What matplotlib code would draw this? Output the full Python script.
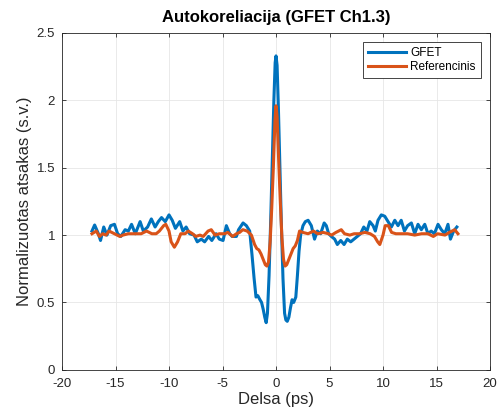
import matplotlib
matplotlib.use("Agg")
import matplotlib.pyplot as plt

# GFET autokoreliacija (delsa ps, normalizuota verte)
t_gfet = [-17.2, -16.95, -16.6, -16.4, -16.1, -15.8, -15.45, -15.1, -14.8, -14.5,
          -14.1, -13.8, -13.5, -13.15, -12.7, -12.4, -12.0, -11.65, -11.3, -11.0,
          -10.7, -10.35, -10.0, -9.7, -9.4, -9.0, -8.7, -8.4, -8.07, -7.66,
          -7.36, -6.98, -6.67, -6.3, -6.0, -5.6, -5.3, -4.95, -4.64, -4.33,
          -4.1, -3.7, -3.5, -3.08, -2.77, -2.46, -2.24, -2.05, -1.87, -1.7,
          -1.5, -1.35, -1.2, -1.05, -0.92, -0.8, -0.65, -0.5, -0.35, -0.2,
          -0.08, 0.0, 0.1, 0.22, 0.35, 0.5, 0.65, 0.8, 0.92, 1.05,
          1.2, 1.35, 1.5, 1.65, 1.85, 2.0, 2.15, 2.3, 2.52, 2.74,
          3.0, 3.3, 3.6, 3.86, 4.17, 4.5, 4.7, 4.92, 5.17, 5.48,
          5.73, 6.05, 6.36, 6.66, 6.98, 7.29, 7.6, 7.9, 8.2, 8.5,
          8.76, 9.07, 9.28, 9.53, 9.84, 10.16, 10.47, 10.78, 11.1, 11.4,
          11.7, 12.0, 12.3, 12.65, 12.96, 13.27, 13.58, 13.9, 14.2, 14.5,
          14.8, 15.14, 15.45, 15.77, 16.07, 16.3, 16.6, 16.9]
v_gfet = [1.03, 1.075, 1.01, 0.96, 1.06, 1.00, 1.07, 1.08, 1.01, 0.99,
          1.04, 1.03, 1.08, 1.01, 1.10, 1.03, 1.06, 1.12, 1.06, 1.10,
          1.13, 1.10, 1.15, 1.11, 1.05, 1.10, 1.03, 1.06, 1.01, 1.00,
          0.95, 0.97, 0.95, 0.99, 0.96, 1.01, 0.97, 0.96, 1.07, 1.01,
          0.99, 0.99, 1.04, 1.09, 1.07, 1.03, 0.85, 0.68, 0.54, 0.55,
          0.52, 0.50, 0.45, 0.39, 0.35, 0.42, 0.70, 1.10, 1.55, 2.00,
          2.28, 2.33, 2.26, 1.95, 1.55, 1.08, 0.68, 0.42, 0.37, 0.36,
          0.39, 0.46, 0.52, 0.50, 0.54, 0.70, 0.88, 1.00, 1.07, 1.10,
          1.11, 1.07, 0.97, 1.03, 1.01, 1.09, 1.07, 1.01, 0.99, 0.97,
          0.93, 0.96, 0.93, 0.97, 0.95, 0.97, 0.99, 1.01, 1.06, 1.03,
          1.10, 1.07, 1.03, 1.11, 1.15, 1.14, 1.10, 1.06, 1.11, 1.07,
          1.11, 1.03, 1.07, 1.09, 1.01, 1.08, 1.04, 1.08, 1.01, 1.03,
          1.01, 1.08, 1.04, 1.01, 1.08, 0.97, 1.03, 1.06]

# Referencinis signalas
t_ref = [-17.2, -16.8, -16.5, -16.2, -15.9, -15.6, -15.1, -14.6, -14.3, -13.8,
         -13.2, -12.6, -12.1, -11.6, -11.2, -10.9, -10.5, -10.3, -10.0, -9.8,
         -9.5, -9.2, -8.9, -8.5, -8.2, -7.8, -7.5, -7.1, -6.8, -6.35,
         -6.05, -5.7, -5.3, -4.8, -4.5, -4.05, -3.7, -3.4, -3.1, -2.7,
         -2.3, -2.0, -1.8, -1.6, -1.4, -1.2, -1.0, -0.85, -0.7, -0.55,
         -0.4, -0.25, -0.1, 0.0, 0.1, 0.25, 0.4, 0.55, 0.7, 0.85,
         1.0, 1.2, 1.4, 1.6, 1.8, 2.0, 2.2, 2.5, 3.0, 3.5,
         3.9, 4.4, 4.9, 5.2, 5.6, 6.1, 6.4, 6.9, 7.3, 7.8,
         8.3, 8.8, 9.2, 9.5, 9.7, 10.0, 10.2, 10.5, 10.8, 11.2,
         11.7, 12.3, 12.96, 13.6, 14.2, 14.7, 15.1, 15.8, 16.2, 16.7,
         17.0]
v_ref = [1.01, 1.03, 0.99, 1.01, 1.00, 1.03, 1.01, 0.99, 1.00, 1.01,
         1.01, 1.01, 1.03, 1.01, 1.01, 1.03, 1.07, 1.08, 1.03, 0.95,
         0.91, 0.95, 1.01, 1.01, 1.03, 1.01, 0.99, 1.00, 0.99, 1.03,
         1.04, 1.00, 1.01, 1.01, 1.02, 0.99, 1.01, 1.02, 1.04, 1.03,
         1.00, 0.93, 0.90, 0.89, 0.86, 0.82, 0.78, 0.77, 0.80, 0.95,
         1.20, 1.50, 1.85, 1.96, 1.88, 1.55, 1.25, 0.98, 0.82, 0.77,
         0.78, 0.82, 0.86, 0.90, 0.92, 0.96, 1.03, 1.02, 1.01, 1.03,
         1.01, 1.02, 1.01, 1.00, 1.02, 1.04, 1.01, 1.00, 1.01, 1.01,
         1.02, 1.01, 0.99, 0.95, 0.93, 1.00, 1.07, 1.07, 1.02, 1.01,
         1.01, 1.01, 1.00, 1.01, 1.01, 0.99, 1.01, 1.00, 1.02, 1.04,
         1.01]

x_ticks = [-20, -15, -10, -5, 0, 5, 10, 15, 20]
y_ticks = [0, 0.5, 1, 1.5, 2, 2.5]
y_tick_labels = ["0", "0.5", "1", "1.5", "2", "2.5"]

plt.rcParams['font.family'] = ['Liberation Sans', 'DejaVu Sans']

fig = plt.figure(figsize=(4.98, 4.16), dpi=100)
ax = fig.add_axes([0.1245, 0.111, 0.8595, 0.8097])

ax.plot(t_gfet, v_gfet, color='#0072BD', linewidth=2.2, label='GFET')
ax.plot(t_ref, v_ref, color='#D95319', linewidth=2.2, label='Referencinis')

ax.set_xlim(-20, 20)
ax.set_ylim(0, 2.5)
ax.set_xticks(x_ticks)
ax.set_xticklabels([str(v) for v in x_ticks])
ax.set_yticks(y_ticks)
ax.set_yticklabels(y_tick_labels)
ax.tick_params(direction='in', length=3, labelsize=9.5, colors='#262626',
               top=True, right=True, width=0.6)
ax.tick_params(axis='x', pad=6)
ax.tick_params(axis='y', pad=5)
ax.grid(True, color='#e6e6e6', linewidth=0.6)
ax.set_axisbelow(True)
for sp in ax.spines.values():
    sp.set_color('#262626')
    sp.set_linewidth(0.6)

ax.set_title("Autokoreliacija (GFET Ch1.3)", fontsize=12, fontweight='bold', pad=8)
ax.set_xlabel("Delsa (ps)", fontsize=12, color='#262626', labelpad=1)
ax.set_ylabel("Normalizuotas atsakas (s.v.)", fontsize=12, color='#262626', labelpad=3)

leg = ax.legend(loc='upper right', fontsize=8.5, fancybox=False, framealpha=1,
                edgecolor='#262626', handlelength=3.2, borderpad=0.4,
                labelspacing=0.15, handletextpad=0.4, borderaxespad=0.8)
leg.get_frame().set_linewidth(0.6)

fig.savefig("out.png", dpi=100)
